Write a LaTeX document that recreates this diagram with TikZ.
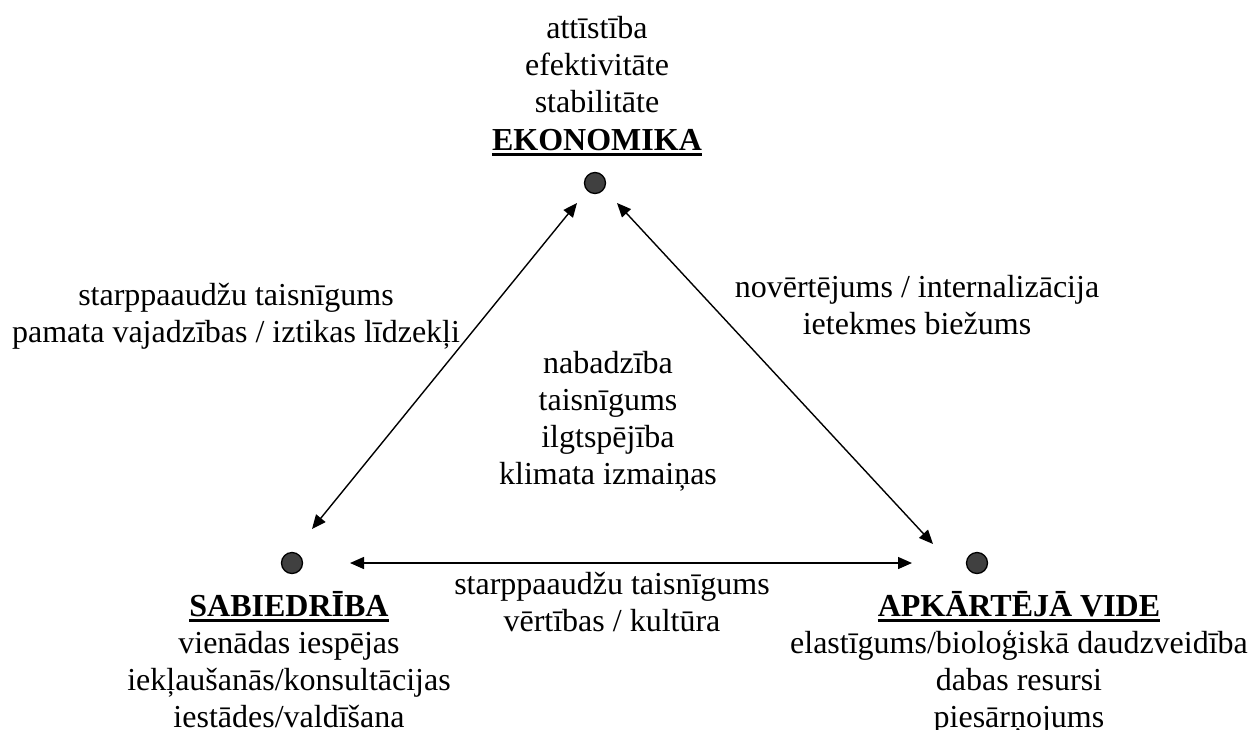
\documentclass[tikz,border=0pt]{standalone}
\usepackage{fontspec}
\setmainfont{Liberation Serif}
\usetikzlibrary{arrows.meta}
\begin{document}
\begin{tikzpicture}[x=1pt,y=-1pt,
  txt/.style={inner sep=0pt,align=center,anchor=base,font=\fontsize{32}{37}\selectfont},
  ttl/.style={inner sep=0pt,anchor=base,font=\fontsize{32}{37}\selectfont\bfseries},
  dot/.style={circle,draw=black,line width=1.3pt,fill=black!75,minimum size=21pt,inner sep=0pt,outer sep=0pt},
  link/.style={{Triangle[length=14pt,width=12pt]}-{Triangle[length=14pt,width=12pt]},line width=1.4pt},
  uline/.style={line width=3pt}]
\useasboundingbox (0,0) rectangle (1251,729);
% dots
\node[dot] (E) at (595,183) {};
\node[dot] (S) at (292,563) {};
\node[dot] (A) at (977,563) {};
% top (anchor = baseline of last line)
\node[txt] (top) at (597,112) {attīstība\\efektivitāte\\stabilitāte};
\node[ttl] (ek) at (597,150) {EKONOMIKA};
\draw[uline] ([yshift=-4.5]ek.base west) -- ([yshift=-4.5]ek.base east);
% left edge label
\node[txt] (ll) at (236,342) {starppaaudžu taisnīgums\\pamata vajadzības / iztikas līdzekļi};
% right edge label
\node[txt] (rl) at (917,334) {novērtējums / internalizācija\\ietekmes biežums};
% centre
\node[txt] (cc) at (608,484) {nabadzība\\taisnīgums\\ilgtspējība\\klimata izmaiņas};
% bottom edge label
\node[txt] (bl) at (612,631) {starppaaudžu taisnīgums\\vērtības / kultūra};
% Sabiedriba
\node[ttl] (sb) at (289,616) {SABIEDRĪBA};
\draw[uline] ([yshift=-4.5]sb.base west) -- ([yshift=-4.5]sb.base east);
\node[txt] (sbt) at (289,727) {vienādas iespējas\\iekļaušanās/konsultācijas\\iestādes/valdīšana};
% Apkartēja vide
\node[ttl] (av) at (1019,616) {APKĀRTĒJĀ VIDE};
\draw[uline] ([yshift=-4.5]av.base west) -- ([yshift=-4.5]av.base east);
\node[txt] (avt) at (1019,727) {elastīgums/bioloģiskā daudzveidība\\dabas resursi\\piesārņojums};
% connectors
\draw[link] ([shift={(-18,20)}]E.center) -- ([shift={(20,-34)}]S.center);
\draw[link] ([shift={(22,20)}]E.center) -- ([shift={(-44,-19)}]A.center);
\draw[link] ([shift={(58,0)}]S.center) -- ([shift={(-65,0)}]A.center);
\end{tikzpicture}
\end{document}
